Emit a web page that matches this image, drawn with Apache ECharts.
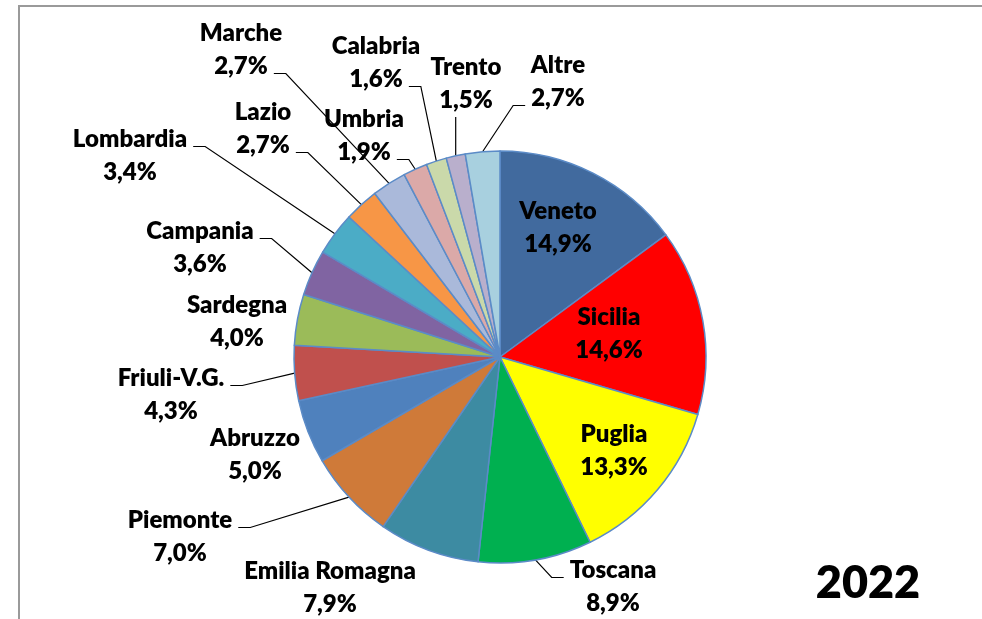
<!DOCTYPE html>
<html>
<head>
<meta charset="utf-8">
<title>2022</title>
<script src="https://cdn.jsdelivr.net/npm/echarts@6/dist/echarts.min.js"></script>
<style>
  html, body { margin: 0; padding: 0; background: #fff; }
  #chart { width: 982px; height: 619px; }
</style>
</head>
<body>
<div id="chart"></div>
<script>
// regioni e quote 2022 (%)
var regioni = ['Veneto', 'Sicilia', 'Puglia', 'Toscana', 'Emilia Romagna', 'Piemonte', 'Abruzzo',
    'Friuli-V.G.', 'Sardegna', 'Campania', 'Lombardia', 'Lazio', 'Marche', 'Umbria',
    'Calabria', 'Trento', 'Altre'];
var quote = [14.9, 14.6, 13.3, 8.9, 7.9, 7.0, 5.0, 4.3, 4.0, 3.6, 3.4, 2.7, 2.7, 1.9, 1.6, 1.5, 2.7];
var anno = '2022';

var colori = ['#416a9e', '#ff0000', '#ffff00', '#00b050', '#3d8ba2', '#cf7a39', '#4f81bd',
    '#c0504d', '#9bbb59', '#8064a2', '#4bacc6', '#f79646', '#aab9da', '#dba9a8',
    '#cad9aa', '#b9afcc', '#a8d0df'];

// posizione delle etichette (centro del testo) e lato del richiamo
var posEtichette = [
    [558, 228], [609, 334], [614, 451], [613, 587], [330, 588], [180, 537], [255, 455],
    [171, 395], [237, 322], [200, 248], [130, 156], [263, 129], [241, 50], [364, 136],
    [376, 63], [466, 84], [558, 82]
];
// null = nessun richiamo; [lato, riga]
var richiami = [
    null, null, null, ['l', 0], null, ['r', 0], null,
    ['r', 0], null, ['r', 0], ['r', 0], ['r', 1], ['r', 1], ['r', 1],
    ['r', 1], ['b', 1], ['l', 1]
];
var interne = 3; // le prime tre etichette stanno dentro la fetta

var CX = 500, CY = 357, R = 206;
var FONT = 24, LH = 33, PESO = 800;

var chart = echarts.init(document.getElementById('chart'));

var ctx = document.createElement('canvas').getContext('2d');
ctx.font = PESO + ' ' + FONT + 'px Lato';

function testo(i) {
    return [regioni[i], quote[i].toFixed(1).replace('.', ',') + '%'];
}

var totale = 0;
for (var i = 0; i < quote.length; i++) totale += quote[i];
var medi = [];
var cum = 0;
for (var i = 0; i < quote.length; i++) {
    var a = (cum + quote[i] / 2) / totale * 2 * Math.PI;
    medi.push([CX + R * Math.sin(a), CY - R * Math.cos(a)]);
    cum += quote[i];
}

var dati = [];
for (var i = 0; i < regioni.length; i++) {
    var item = { name: regioni[i], value: quote[i], itemStyle: { color: colori[i] } };
    if (i < interne) {
        item.label = { position: 'inside' };
    }
    if (!richiami[i]) {
        item.labelLine = { show: false };
    }
    dati.push(item);
}

var option = {
    animation: false,
    textStyle: { fontFamily: 'Lato' },
    graphic: [
        {
            type: 'rect',
            shape: { x: 19, y: 6, width: 1000, height: 700 },
            style: { fill: 'none', stroke: '#9a9a9a', lineWidth: 2 },
            silent: true
        },
        {
            type: 'text',
            x: 868, y: 583,
            style: {
                text: anno, fontFamily: 'Lato', fontWeight: PESO, fontSize: 45,
                fill: '#000', align: 'center', verticalAlign: 'middle'
            }
        }
    ],
    series: [{
        type: 'pie',
        center: [CX, CY],
        radius: R,
        startAngle: 90,
        clockwise: true,
        data: dati,
        itemStyle: { borderColor: '#5b8bc7', borderWidth: 1.5 },
        label: {
            show: true,
            formatter: function (p) {
                return testo(p.dataIndex).join('\n');
            },
            fontFamily: 'Lato',
            fontWeight: PESO,
            fontSize: FONT,
            lineHeight: LH,
            color: '#000',
            align: 'center'
        },
        labelLine: {
            show: true,
            length: 20,
            length2: 10,
            lineStyle: { color: '#000', width: 1.2 }
        },
        labelLayout: function (p) {
            var i = p.dataIndex;
            var pos = posEtichette[i];
            var res = { x: pos[0], y: pos[1], align: 'center', verticalAlign: 'middle' };
            var ric = richiami[i];
            if (ric) {
                var riga = ric[1];
                var w = ctx.measureText(testo(i)[riga]).width;
                var yRiga = pos[1] - LH / 2 + riga * LH + 7;
                var m = medi[i];
                var fine, gomito;
                if (ric[0] === 'r') {
                    fine = [pos[0] + w / 2 + 6, yRiga];
                    gomito = [fine[0] + 12, yRiga];
                } else if (ric[0] === 'l') {
                    fine = [pos[0] - w / 2 - 6, yRiga];
                    gomito = [fine[0] - 12, yRiga];
                } else {
                    fine = [m[0], pos[1] + LH];
                    gomito = fine;
                }
                res.labelLinePoints = [m, gomito, fine];
            }
            return res;
        },
        emphasis: { disabled: true }
    }]
};

chart.setOption(option);
</script>
</body>
</html>
